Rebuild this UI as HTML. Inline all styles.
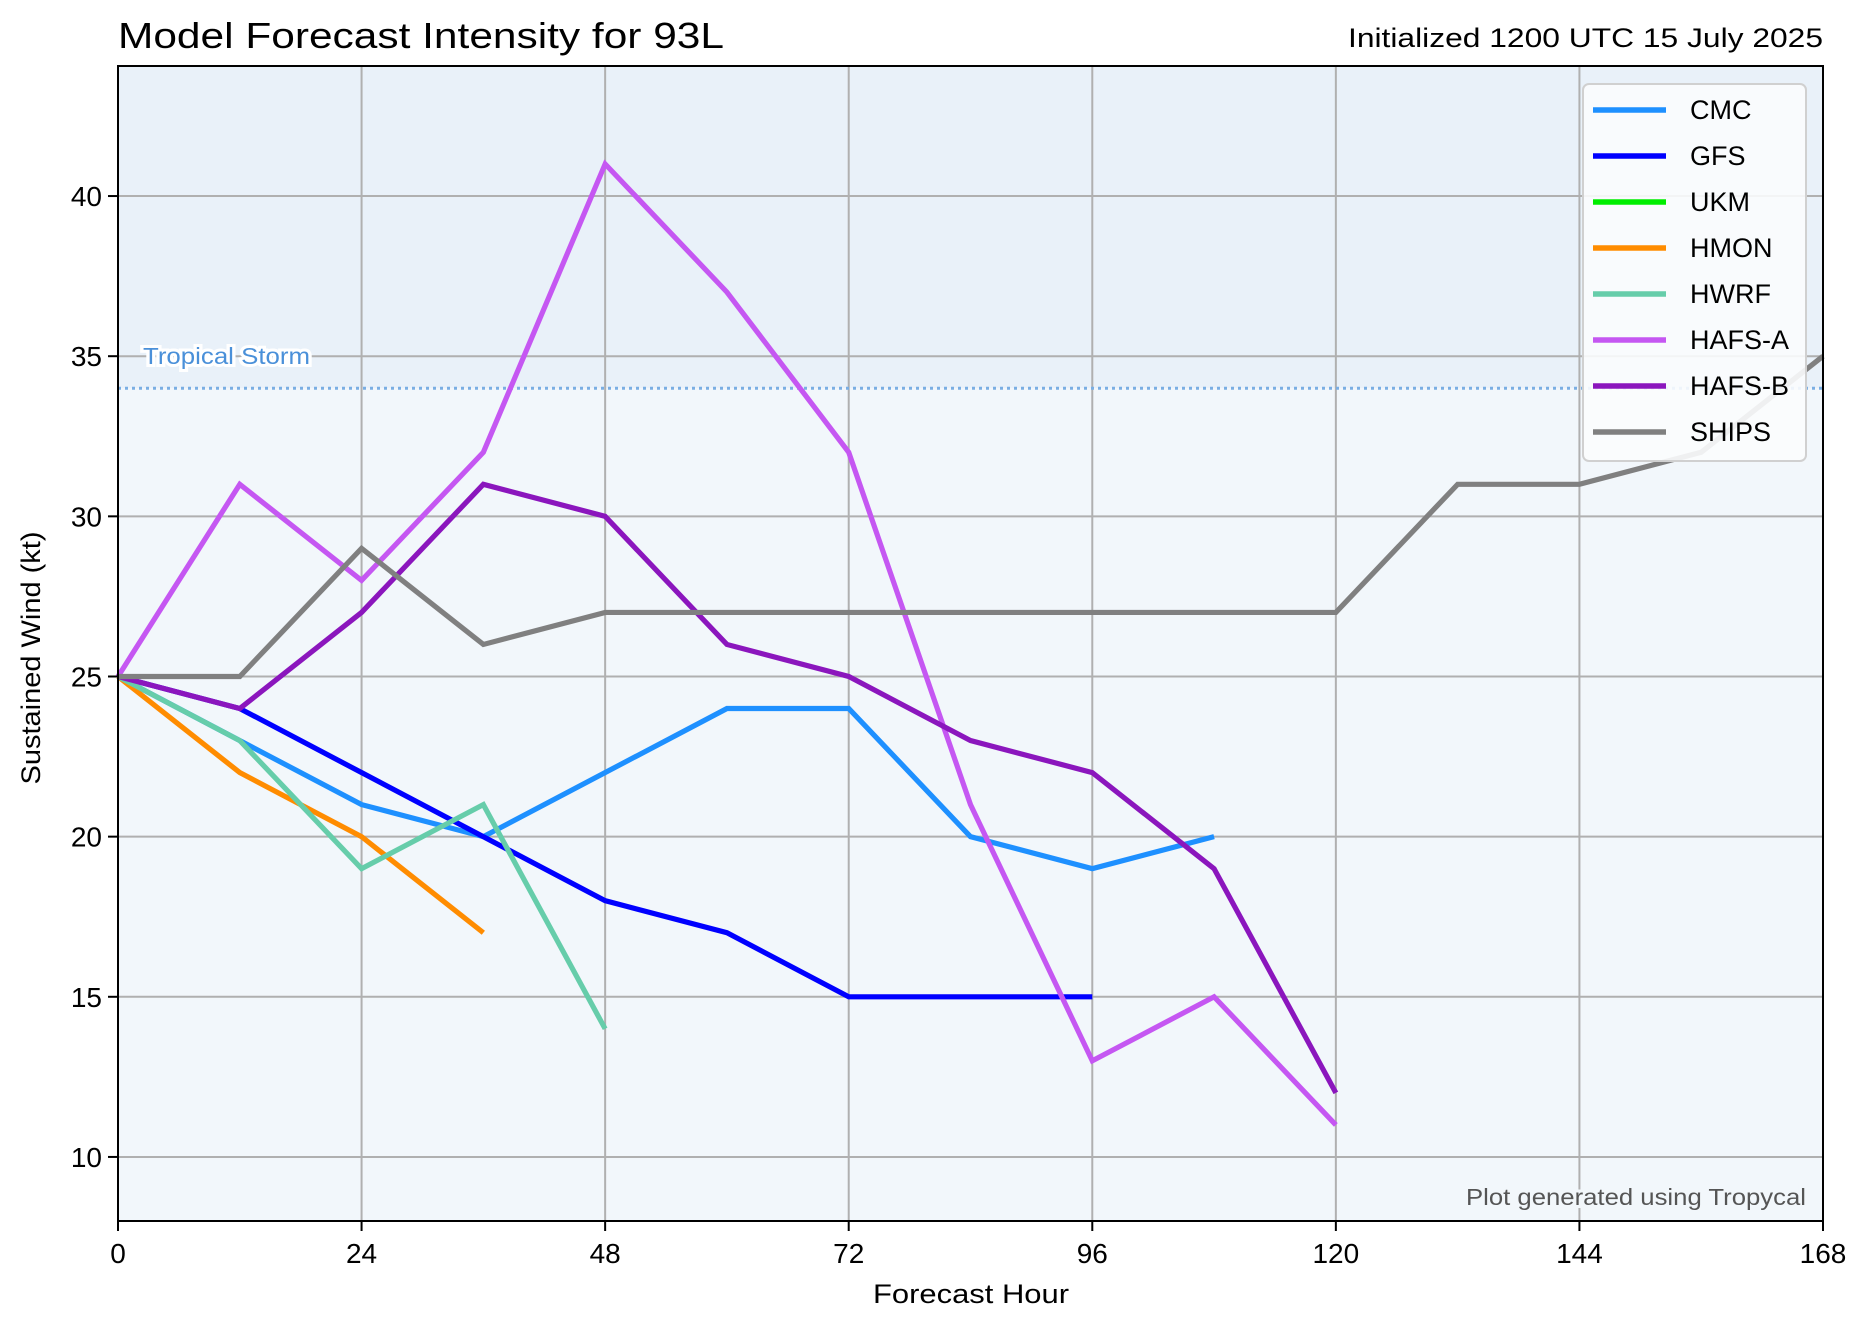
<!DOCTYPE html>
<html><head><meta charset="utf-8"><style>
body{margin:0;background:#fff}
svg{display:block;font-family:"Liberation Sans",sans-serif}
</style></head><body>
<svg id="chart" width="1871" height="1328" viewBox="0 0 1871 1328" xmlns="http://www.w3.org/2000/svg">
<text x="118" y="48" font-size="36" fill="#000" textLength="606" lengthAdjust="spacingAndGlyphs">Model Forecast Intensity for 93L</text>
<text x="1823" y="47" font-size="27" text-anchor="end" fill="#000" textLength="475" lengthAdjust="spacingAndGlyphs">Initialized 1200 UTC 15 July 2025</text>
<g id="bg"></g>
<g id="grid"></g>
<g id="ts"></g>
<g id="series"></g>
<g id="axes"></g>
<g id="legend"></g>
<text x="971" y="1303" font-size="27" text-anchor="middle" textLength="196" lengthAdjust="spacingAndGlyphs">Forecast Hour</text>
<text transform="translate(40,658) rotate(-90)" font-size="27" text-anchor="middle" textLength="253" lengthAdjust="spacingAndGlyphs">Sustained Wind (kt)</text>
<text x="1806" y="1205" font-size="23" text-anchor="end" fill="#555" stroke="#f2f7fb" stroke-width="6" paint-order="stroke" textLength="340" lengthAdjust="spacingAndGlyphs">Plot generated using Tropycal</text>
</svg>
<script>
const xTicks=[0,24,48,72,96,120,144,168];
const yTicks=[10,15,20,25,30,35,40];
const models=["CMC","GFS","UKM","HMON","HWRF","HAFS-A","HAFS-B","SHIPS"];
const colors=["#1e90ff","#0000ff","#00ee00","#ff8c00","#66cdaa","#c557f2","#8b16bd","#808080"];
const hoursCMC=[0,12,24,36,48,60,72,84,96,108];
const windCMC=[25,23,21,20,22,24,24,20,19,20];
const hoursGFS=[0,12,24,36,48,60,72,84,96];
const windGFS=[25,24,22,20,18,17,15,15,15];
const hoursUKM=[];
const windUKM=[];
const hoursHMON=[0,12,24,36];
const windHMON=[25,22,20,17];
const hoursHWRF=[0,12,24,36,48];
const windHWRF=[25,23,19,21,14];
const hoursHAFSA=[0,12,24,36,48,60,72,84,96,108,120];
const windHAFSA=[25,31,28,32,41,37,32,21,13,15,11];
const hoursHAFSB=[0,12,24,36,48,60,72,84,96,108,120];
const windHAFSB=[25,24,27,31,30,26,25,23,22,19,12];
const hoursSHIPS=[0,12,24,36,48,60,72,84,96,108,120,132,144,156,168];
const windSHIPS=[25,25,29,26,27,27,27,27,27,27,27,31,31,32,35];
const tsThreshold=34;

const L=118,R=1823,T=66,B=1221,xMin=0,xMax=168,yMin=8,yMax=44.06;
const X=v=>L+(v-xMin)/(xMax-xMin)*(R-L);
const Y=v=>B-(v-yMin)/(yMax-yMin)*(B-T);
const NS="http://www.w3.org/2000/svg";
function mk(tag,attrs,parent){const e=document.createElementNS(NS,tag);for(const k in attrs)e.setAttribute(k,attrs[k]);parent.appendChild(e);return e;}
const bg=document.getElementById('bg'),grid=document.getElementById('grid'),ts=document.getElementById('ts'),ser=document.getElementById('series'),axes=document.getElementById('axes'),leg=document.getElementById('legend');

let r=mk('rect',{x:L,y:T,width:R-L,height:Y(tsThreshold)-T,fill:'#e9f1f9'},bg);


r=mk('rect',{x:L,y:Y(tsThreshold),width:R-L,height:B-Y(tsThreshold),fill:'#f2f7fb'},bg);



xTicks.forEach(t=>{
 let g=mk('line',{x1:X(t),x2:X(t),y1:T,y2:B,stroke:'#b0b0b0','stroke-width':2},grid);
 
 
 let tk=mk('line',{x1:X(t),x2:X(t),y1:B,y2:B+10,stroke:'#000','stroke-width':2},axes);
 
 
 let tx=mk('text',{x:X(t),y:1263,'font-size':28,'text-anchor':'middle'},axes);
 tx.textContent=t;
 
 
});
yTicks.forEach(t=>{
 let g=mk('line',{x1:L,x2:R,y1:Y(t),y2:Y(t),stroke:'#b0b0b0','stroke-width':2},grid);
 
 
 let tk=mk('line',{x1:L-10,x2:L,y1:Y(t),y2:Y(t),stroke:'#000','stroke-width':2},axes);
 
 
 let tx=mk('text',{x:L-16,y:Y(t)+10,'font-size':28,'text-anchor':'end'},axes);
 tx.textContent=t;
 
 
});
let tl=mk('line',{x1:L,x2:R,y1:Y(tsThreshold),y2:Y(tsThreshold),stroke:'#7aaee3','stroke-width':3,'stroke-dasharray':'3 4'},ts);


let tt=mk('text',{x:143,y:Y(35)+8,'font-size':23,fill:'#4a90d9',stroke:'#fff','stroke-width':6,'paint-order':'stroke',textLength:167,lengthAdjust:'spacingAndGlyphs'},ts);
tt.textContent='Tropical Storm';



const hours=[hoursCMC,hoursGFS,hoursUKM,hoursHMON,hoursHWRF,hoursHAFSA,hoursHAFSB,hoursSHIPS];
const winds=[windCMC,windGFS,windUKM,windHMON,windHWRF,windHAFSA,windHAFSB,windSHIPS];
models.forEach((m,i)=>{
 if(!hours[i].length)return;
 const pts=hours[i].map((h,j)=>X(h)+','+Y(winds[i][j])).join(' ');
 let p=mk('polyline',{points:pts,fill:'none',stroke:colors[i],'stroke-width':5.2,'stroke-linejoin':'miter'},ser);
 
 
});
let fr=mk('rect',{x:L,y:T,width:R-L,height:B-T,fill:'none',stroke:'#000','stroke-width':2},axes);



let lb=mk('rect',{x:1583,y:84,width:223,height:377,rx:6,fill:'#fbfcfd','fill-opacity':0.9,stroke:'#d0d0d0','stroke-width':2},leg);


models.forEach((m,i)=>{
 const y=110+i*46;
 let g=mk('g',{},leg);
 
 
 mk('line',{x1:1593,x2:1666,y1:y,y2:y,stroke:colors[i],'stroke-width':5.5},g);
 let t=mk('text',{x:1690,y:y+9,'font-size':27},g);
 t.textContent=m;
});
</script>
</body></html>
